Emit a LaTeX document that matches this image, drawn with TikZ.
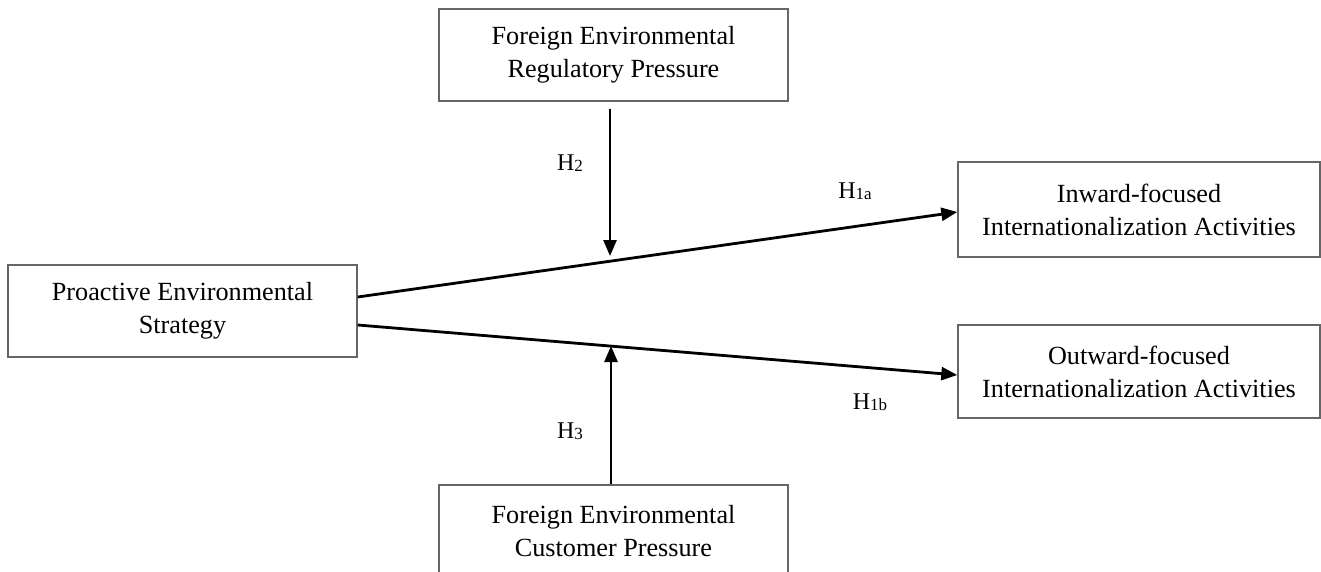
\documentclass[tikz,border=0pt]{standalone}
\usepackage{fontspec}
\setmainfont{Liberation Serif}
\usetikzlibrary{arrows.meta}
\begin{document}
\begin{tikzpicture}[x=1pt,y=-1pt,
  box/.style={draw=black!60, line width=1.4pt, align=center, inner sep=0pt,
    font=\fontsize{26.2}{33}\selectfont},
  conn/.style={line width=2.8pt, -{Triangle[length=16pt,width=13pt]}},
  hlabel/.style={inner sep=0pt, font=\fontsize{24}{24}\selectfont}]
\useasboundingbox (0,0) rectangle (1321,572);
\fill[white] (0,0) rectangle (1321,572);
\begin{scope}
\clip (0,0) rectangle (1321,572);
\node[box, minimum width=349pt, minimum height=92pt] (top) at (613.5,55)
  {Foreign Environmental\\Regulatory Pressure};
\node[box, minimum width=349pt, minimum height=92pt] (left) at (182.5,311)
  {Proactive Environmental\\Strategy};
\node[box, minimum width=362pt, minimum height=95pt] (in) at (1139,209.5)
  {Inward-focused\\Internationalization Activities};
\node[box, minimum width=362pt, minimum height=93pt] (out) at (1139,371.5)
  {Outward-focused\\Internationalization Activities};
\node[box, minimum width=349pt, minimum height=92pt] (bot) at (613.5,531)
  {Foreign Environmental\\Customer Pressure};
\end{scope}
\draw[conn] ([yshift=14pt]left.east) -- ([yshift=-2.5pt]in.west);
\draw[conn] ([yshift=-14pt]left.east) -- ([yshift=-3.5pt]out.west);
\coordinate (m1) at (610,256);
\coordinate (m2) at (611,346);
\draw[conn] ([xshift=-3.5pt,yshift=-7pt]top.south) -- (m1);
\draw[conn] ([xshift=-2.5pt]bot.north) -- (m2);
\node[hlabel] (h2) at (570,163) {H\raisebox{-1pt}{\fontsize{17}{17}\selectfont 2}};
\node[hlabel] (h1a) at (855,191) {H\raisebox{-1pt}{\fontsize{17}{17}\selectfont 1a}};
\node[hlabel] (h3) at (570,431) {H\raisebox{-1pt}{\fontsize{17}{17}\selectfont 3}};
\node[hlabel] (h1b) at (870,402) {H\raisebox{-1pt}{\fontsize{17}{17}\selectfont 1b}};
\end{tikzpicture}
\end{document}
